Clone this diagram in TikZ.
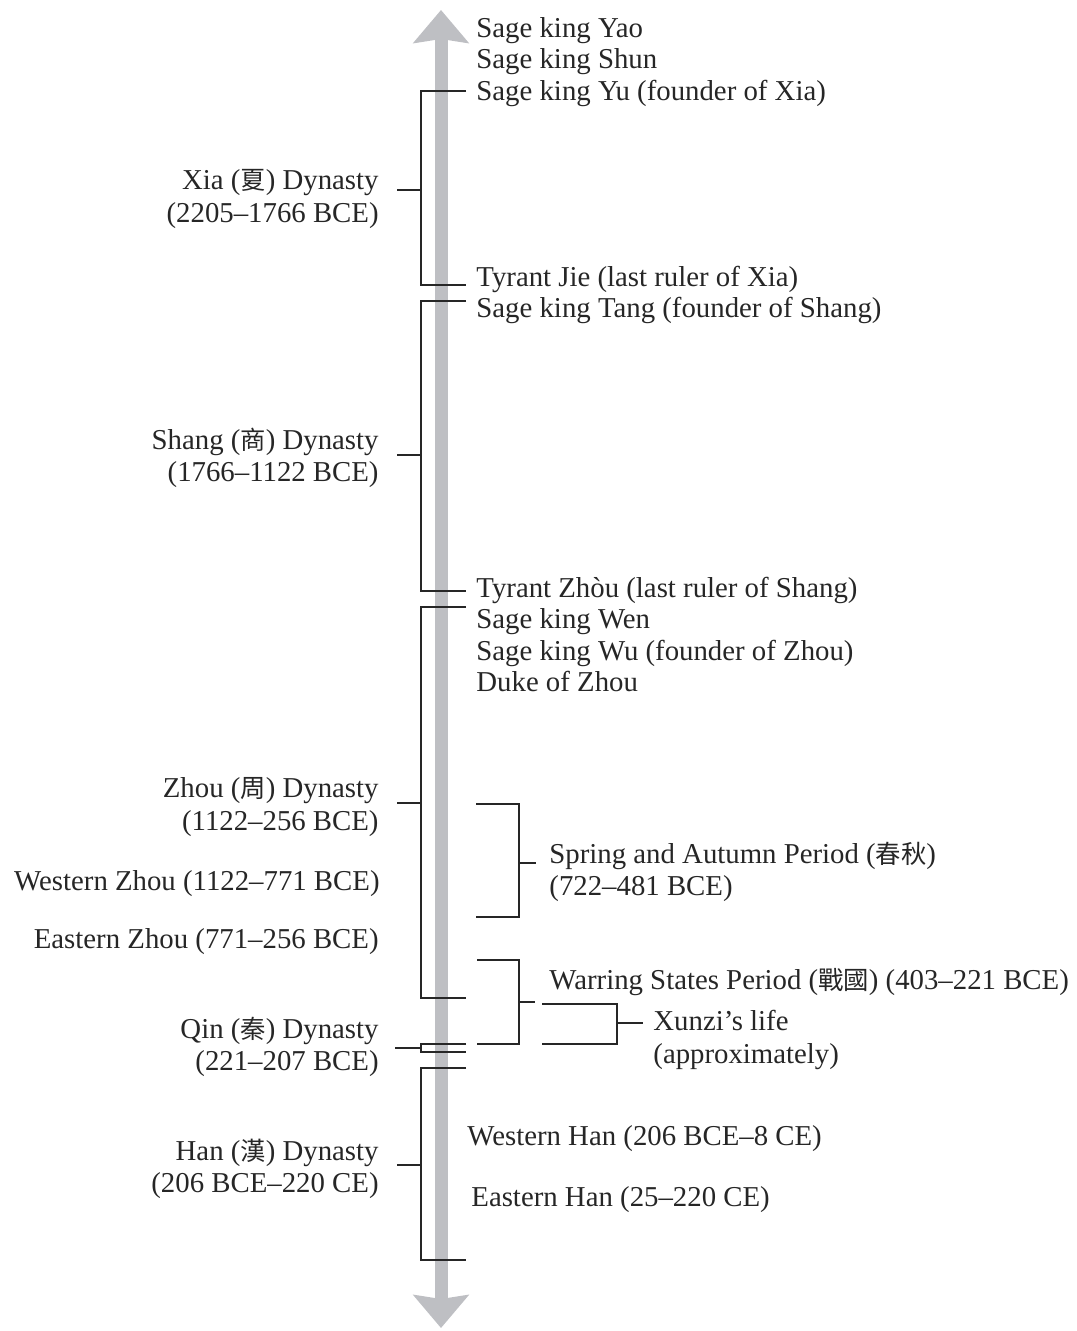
\documentclass[tikz,border=0pt]{standalone}
\usepackage{fontspec}
\setmainfont{Liberation Serif}
\newfontfamily\cjk{Noto Sans CJK TC}[Scale=0.88]
\usepackage{tikz}
\usetikzlibrary{arrows.meta}
\definecolor{axisgray}{RGB}{190,191,195}
\definecolor{inkgray}{RGB}{38,38,38}
\newcommand{\zh}[1]{{\cjk #1}}

\begin{document}
\begin{tikzpicture}[
  x=0.5pt, y=-0.5pt,
  font=\fontsize{14.4}{16.2}\selectfont,
  >={Stealth[length=16.5pt,width=27.5pt,inset=2pt]},
  axis/.style={<->, line width=6.5pt, draw=axisgray},
  brk/.style={draw=inkgray, line width=0.75pt},
  event/.style={anchor=base west, inner sep=0pt, text=inkgray},
  period/.style={anchor=west, align=left, inner sep=0pt, text=inkgray},
  dyn/.style={anchor=east, align=right, inner sep=0pt, text=inkgray}
]
\useasboundingbox (0,0) rectangle (1076,1331);

% time axis
\coordinate (ax-top) at (441,10);
\coordinate (ax-bot) at (441,1328);
\draw[axis] (ax-bot) -- (ax-top);

% dynasties
\node[dyn] (xia) at (379,199) {Xia (\zh{夏}) Dynasty\\(2205–1766 BCE)};
\node[dyn] (shang) at (379,458) {Shang (\zh{商}) Dynasty\\(1766–1122 BCE)};
\node[dyn] (zhou) at (379,807) {Zhou (\zh{周}) Dynasty\\(1122–256 BCE)};
\node[dyn] (wzhou) at (380,884) {Western Zhou (1122–771 BCE)};
\node[dyn] (ezhou) at (379,942) {Eastern Zhou (771–256 BCE)};
\node[dyn] (qin) at (379,1047) {Qin (\zh{秦}) Dynasty\\(221–207 BCE)};
\node[dyn] (han) at (379,1169) {Han (\zh{漢}) Dynasty\\(206 BCE–220 CE)};

% rulers
\node[event] (yao) at (476,38) {Sage king Yao};
\node[event] (shun) at (476,69) {Sage king Shun};
\node[event] (yu) at (476,101) {Sage king Yu (founder of Xia)};
\node[event] (jie) at (476,287) {Tyrant Jie (last ruler of Xia)};
\node[event] (tang) at (476,318) {Sage king Tang (founder of Shang)};
\node[event] (zhouty) at (476,597) {Tyrant Zhòu (last ruler of Shang)};
\node[event] (wen) at (476,628) {Sage king Wen};
\node[event] (wu) at (476,660) {Sage king Wu (founder of Zhou)};
\node[event] (duke) at (476,691) {Duke of Zhou};
\node[event] (whan) at (467,1145) {Western Han (206 BCE–8 CE)};
\node[event] (ehan) at (471,1206) {Eastern Han (25–220 CE)};

% periods
\node[period] (spring) at (549,872) {Spring and Autumn Period (\zh{春秋})\\(722–481 BCE)};
\node[event] (warring) at (549,989) {Warring States Period (\zh{戰國}) (403–221 BCE)};
\node[period] (xunzi) at (653,1040) {Xunzi’s life\\(approximately)};

% dynasty brackets
\coordinate (xia-t) at (466,91);
\coordinate (xia-m) at (421,190);
\coordinate (xia-b) at (466,285);
\coordinate (xia-in) at (397,190);
\draw[brk] (xia-t) -| (xia-m) |- (xia-b);
\draw[brk] (xia-in) -- (xia-m);

\coordinate (shang-t) at (466,301);
\coordinate (shang-m) at (421,455);
\coordinate (shang-b) at (466,591);
\coordinate (shang-in) at (397,455);
\draw[brk] (shang-t) -| (shang-m) |- (shang-b);
\draw[brk] (shang-in) -- (shang-m);

\coordinate (zhou-t) at (466,607);
\coordinate (zhou-m) at (421,803);
\coordinate (zhou-b) at (466,998);
\coordinate (zhou-in) at (397,803);
\draw[brk] (zhou-t) -| (zhou-m) |- (zhou-b);
\draw[brk] (zhou-in) -- (zhou-m);

\coordinate (qin-t) at (466,1044);
\coordinate (qin-m) at (421,1048);
\coordinate (qin-b) at (466,1052);
\coordinate (qin-in) at (395,1048);
\draw[brk] (qin-t) -| (qin-m) |- (qin-b);
\draw[brk] (qin-in) -- (qin-m);

\coordinate (han-t) at (466,1068);
\coordinate (han-m) at (421,1165);
\coordinate (han-b) at (466,1260);
\coordinate (han-in) at (397,1165);
\draw[brk] (han-t) -| (han-m) |- (han-b);
\draw[brk] (han-in) -- (han-m);

% period brackets
\coordinate (spring-t) at (476,804);
\coordinate (spring-m) at (519,863);
\coordinate (spring-b) at (476,917);
\coordinate (spring-out) at (536,863);
\draw[brk] (spring-t) -| (spring-m) |- (spring-b);
\draw[brk] (spring-m) -- (spring-out);

\coordinate (war-t) at (477,960);
\coordinate (war-m) at (519,1002);
\coordinate (war-b) at (477,1044);
\coordinate (war-out) at (535,1002);
\draw[brk] (war-t) -| (war-m) |- (war-b);
\draw[brk] (war-m) -- (war-out);

\coordinate (xz-t) at (542,1004);
\coordinate (xz-m) at (617,1023);
\coordinate (xz-b) at (542,1044);
\coordinate (xz-out) at (643,1023);
\draw[brk] (xz-t) -| (xz-m) |- (xz-b);
\draw[brk] (xz-m) -- (xz-out);
\end{tikzpicture}
\end{document}
